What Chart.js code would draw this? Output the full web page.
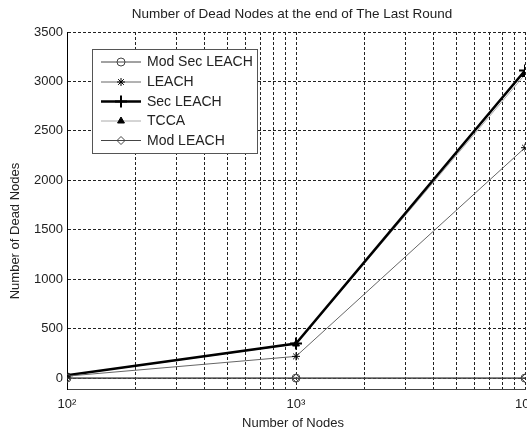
<!DOCTYPE html>
<html>
<head>
<meta charset="utf-8">
<script src="https://cdn.jsdelivr.net/npm/chart.js@4.4.0/dist/chart.umd.min.js"></script>
<style>
html,body{margin:0;padding:0;background:#fff;}
#wrap{width:527px;height:431px;position:relative;}
</style>
</head>
<body>
<div id="wrap"><canvas id="c" width="527" height="431"></canvas></div>
<script>
const chartTitle = 'Number of Dead Nodes at the end of The Last Round';
const xTitle = 'Number of Nodes';
const yTitle = 'Number of Dead Nodes';
const nodes = [100, 1000, 10000];
const modSecLeach = [0, 0, 0];
const leach = [20, 220, 2330];
const secLeach = [30, 350, 3110];
const tcca = [28, 345, 3070];
const modLeach = [0, 0, 0];
const seriesNames = ['Mod Sec LEACH', 'LEACH', 'Sec LEACH', 'TCCA', 'Mod LEACH'];
const yTicks = [0, 500, 1000, 1500, 2000, 2500, 3000, 3500];
const xTicks = [100,200,300,400,500,600,700,800,900,1000,2000,3000,4000,5000,6000,7000,8000,9000,10000];
const xTickLabels = {100: '10²', 1000: '10³', 10000: '10⁴'};

const FONT = "'Liberation Sans', Arial, sans-serif";

function pts(arr){ return nodes.map((x,i)=>({x:x, y:arr[i]})); }

const datasets = [
  {label: seriesNames[0], data: pts(modSecLeach), borderColor:'#444', borderWidth:1,
   pointStyle:'circle', pointRadius:4, pointBorderColor:'#444', pointBackgroundColor:'rgba(255,255,255,0)', pointBorderWidth:1},
  {label: seriesNames[1], data: pts(leach), borderColor:'#666', borderWidth:1,
   pointStyle:'star', pointRadius:4, pointBorderColor:'#000', pointBackgroundColor:'#000', pointBorderWidth:1},
  {label: seriesNames[2], data: pts(secLeach), borderColor:'#000', borderWidth:2.5,
   pointStyle:'cross', pointRadius:6, pointBorderColor:'#000', pointBackgroundColor:'#000', pointBorderWidth:2},
  {label: seriesNames[3], data: pts(tcca), borderColor:'#aaa', borderWidth:1,
   pointStyle:'triangle', pointRadius:4, pointBorderColor:'#000', pointBackgroundColor:'#000', pointBorderWidth:1},
  {label: seriesNames[4], data: pts(modLeach), borderColor:'#444', borderWidth:1,
   pointStyle:'rectRot', pointRadius:4, pointBorderColor:'#444', pointBackgroundColor:'rgba(255,255,255,0)', pointBorderWidth:1}
];

const decor = {
  id: 'decor',
  afterDraw(chart){
    const ctx = chart.ctx;
    ctx.save();
    ctx.fillStyle = '#222';
    ctx.textAlign = 'center';
    ctx.textBaseline = 'middle';
    ctx.font = '13.5px ' + FONT;
    ctx.fillText(chartTitle, 292, 14);
    ctx.font = '13px ' + FONT;
    ctx.fillText(xTitle, 293, 423);
    ctx.save();
    ctx.translate(15, 231);
    ctx.rotate(-Math.PI/2);
    ctx.fillText(yTitle, 0, 0);
    ctx.restore();

    // legend
    const bx = 92, by = 49, bw = 165, bh = 104;
    ctx.fillStyle = '#fff';
    ctx.fillRect(bx, by, bw, bh);
    ctx.strokeStyle = '#555';
    ctx.lineWidth = 1;
    ctx.strokeRect(bx+0.5, by+0.5, bw, bh);
    const rowY = [62, 82, 101.5, 121, 140.5];
    chart.data.datasets.forEach((ds, i) => {
      const y = rowY[i];
      ctx.strokeStyle = ds.borderColor;
      ctx.lineWidth = ds.borderWidth;
      ctx.beginPath();
      ctx.moveTo(101, y);
      ctx.lineTo(141, y);
      ctx.stroke();
      ctx.strokeStyle = ds.pointBorderColor;
      ctx.fillStyle = ds.pointBackgroundColor;
      ctx.lineWidth = ds.pointBorderWidth;
      Chart.helpers.drawPoint(ctx, {pointStyle: ds.pointStyle, radius: ds.pointRadius, borderWidth: ds.pointBorderWidth, rotation: 0}, 121, y);
      ctx.fillStyle = '#222';
      ctx.textAlign = 'left';
      ctx.font = '14px ' + FONT;
      ctx.fillText(ds.label, 147, y + 0.5);
    });
    ctx.restore();
  }
};

new Chart(document.getElementById('c'), {
  type: 'line',
  data: { datasets: datasets },
  options: {
    responsive: false,
    animation: false,
    devicePixelRatio: 1,
    layout: { autoPadding: false, padding: { top: 32, right: 2, left: 0, bottom: 0 } },
    plugins: { legend: { display: false }, title: { display: false }, tooltip: { enabled: false } },
    elements: { line: { tension: 0 } },
    scales: {
      x: {
        type: 'logarithmic', min: 100, max: 10000,
        afterFit(s){ s.height = 42; s.paddingLeft = 0; s.paddingRight = 0; },
        afterBuildTicks(s){ s.ticks = xTicks.map(v => ({value: v})); },
        grid: { color: '#222', lineWidth: 1, drawTicks: false },
        border: { display: true, color: '#444', width: 1, dash: [3, 2] },
        ticks: {
          autoSkip: false, maxRotation: 0, padding: 8, color: '#222',
          font: { family: FONT, size: 13 },
          callback(v){ return xTickLabels[v] || ''; }
        }
      },
      y: {
        type: 'linear', min: -110, max: 3500,
        afterFit(s){ s.width = 67; s.paddingTop = 0; s.paddingBottom = 0; },
        afterBuildTicks(s){ s.ticks = yTicks.map(v => ({value: v})); },
        grid: { color: '#222', lineWidth: 1, drawTicks: false },
        border: { display: true, color: '#000', width: 1, dash: [3, 2] },
        ticks: {
          padding: 4, color: '#222',
          font: { family: FONT, size: 13 },
          callback(v){ return String(v); }
        }
      }
    }
  },
  plugins: [decor]
});
</script>
</body>
</html>
